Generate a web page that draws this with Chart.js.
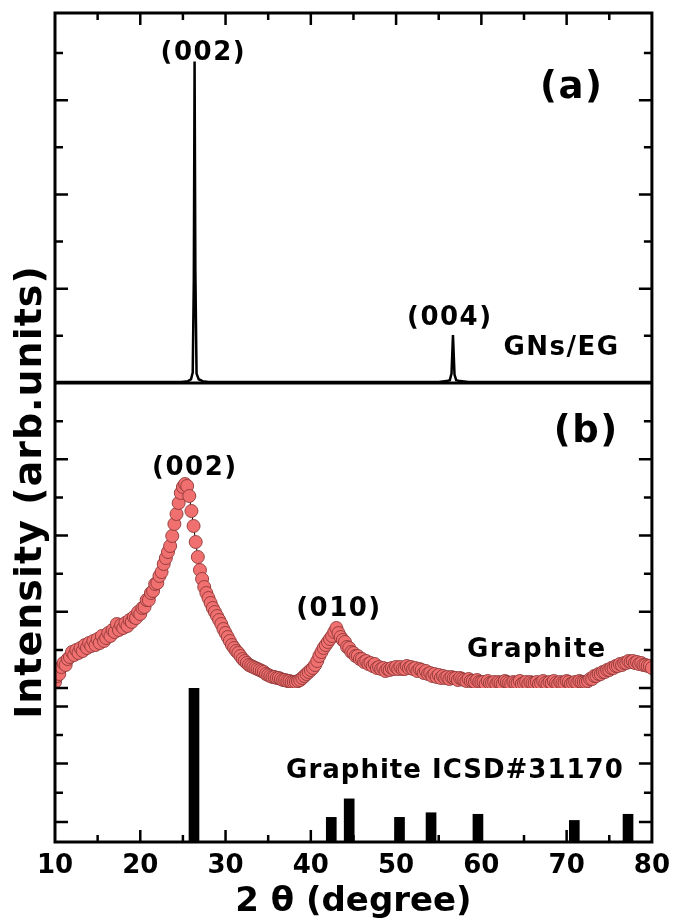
<!DOCTYPE html>
<html lang="en">
<head>
  <meta charset="UTF-8">
  <title>XRD: GNs/EG and graphite</title>
  <script src="https://cdn.jsdelivr.net/npm/chart.js"></script>
  <style>
    html, body { margin: 0; padding: 0; background: #fff; }
    #wrap { position: relative; width: 679px; height: 919px; }
  </style>
</head>
<body>
  <div id="wrap"><canvas id="xrdCanvas"></canvas></div>

  <script>
    // x axis (2 theta, degree)
    const xMin = 10;
    const xMax = 80;
    const xStep = 10;

    // (a) GNs/EG pattern
    const gnsTheta = [10, 11.5, 13, 14.5, 16, 17.5, 19, 20.5, 22, 23.5,
      24.8, 25.6, 25.95, 26.15, 26.28, 26.37, 26.46, 26.6, 26.85, 27.3,
      28, 29.5, 31, 33, 35, 37, 39, 41, 43, 45,
      47, 49, 51, 53, 55, 55.9, 56.3, 56.5, 56.67, 56.85,
      57.05, 57.5, 58.5, 60, 62, 64, 66, 68, 70, 72,
      74, 76, 78, 80];
    const gnsIntensity = [1, 1, 1, 1, 1, 1, 1, 1, 1, 1,
      1, 2, 4, 11, 110, 341, 120, 10, 4, 2,
      1, 1, 1, 1, 1, 1, 1, 1, 1, 1,
      1, 1, 1, 1, 1, 2, 3, 10, 51, 9,
      3, 2, 1, 1, 1, 1, 1, 1, 1, 1,
      1, 1, 1, 1];

    // (b) graphite scan, 0.25 degree steps from 10 degree
    const scanStart = 10;
    const scanStep = 0.25;
    const graphiteIntensity = [
      6, 12, 14, 21,   25, 23, 29, 31,   36, 33, 38, 35,   40, 37, 43, 40,
      45, 42, 47, 43,  49, 45, 52, 47,   50, 55, 52, 58,   56, 64, 58, 63,
      60, 65, 62, 68,  66, 71, 70, 76,   74, 80, 81, 88,   88, 95, 97, 104,
      105, 112, 116, 124,  130, 136, 142, 152,  164, 174, 185, 195,  201, 204, 202, 192,
      177, 162, 146, 131,  118, 109, 101, 95,  90, 85, 80, 76,  72, 68, 64, 59,
      55, 51, 47, 43,  40, 37, 35, 32,  29, 27, 25, 23,  22, 21, 20, 19,
      18, 17, 16, 14,  13, 12, 11, 11,  10, 10, 9, 8,  8, 7, 7, 6,
      6, 6, 7, 8,  10, 12, 14, 16,  18, 20, 23, 27,  32, 36, 40, 43,
      46, 49, 52, 56,  60, 55, 51, 48,  46, 41, 40, 36,  35, 32, 32, 29,
      29, 26, 27, 24,  25, 22, 24, 20,  21, 19, 20, 17,  19, 18, 20, 19,
      21, 19, 21, 19,  19, 22, 20, 21,  19, 20, 17, 19,  18, 15, 17, 14,
      15, 12, 14, 11,  13, 10, 12, 10,  11, 9, 11, 10,  10, 8, 10, 9,
      8, 7, 9, 7,  7, 6, 8, 6,
      6,
      6, 4, 7, 5, 5, 6, 4, 6, 5, 4, 7, 6, 5, 4, 6, 5, 5, 7, 4, 5, 6, 4, 6, 5,
      5, 6, 4, 5, 7, 5, 4, 6, 5, 7, 5, 4, 6, 5, 5, 7, 6, 4, 5, 6, 5, 7, 6, 6,
      6, 7, 9,
      9, 12, 12, 14,  14, 16, 16, 18,  18, 20, 20, 22,  22, 24, 23, 25,
      25, 27, 26, 27,  25, 26, 24, 25,  23, 23, 22, 22,
      20];

    // Graphite ICSD#31170 reference lines
    const icsdTheta = [26.3, 42.4, 44.5, 50.4, 54.1, 59.6, 70.9, 77.2];
    const icsdIntensity = [100, 16, 28, 16, 19, 18, 14, 18];

    // y ranges and tick marks of the three stacked panels
    const aMax = 392.5, aTickStep = 50;
    const bMax = 305, bTickStep = 38.125;
    const cMax = 100;
    const cTicks = [13, 32, 51, 69.5, 88];
    const cMajor = [true, false, true, false, true];

    const labels = [
      { text: '(002)', x: 27.4, axis: 'ya', y: 350, size: 26 },
      { text: '(a)', x: 70.6, axis: 'ya', y: 313, size: 37 },
      { text: '(004)', x: 56.3, axis: 'ya', y: 69, size: 26 },
      { text: 'GNs/EG', x: 69.4, axis: 'ya', y: 37, size: 26 },
      { text: '(b)', x: 72.3, axis: 'yb', y: 256, size: 37 },
      { text: '(002)', x: 26.4, axis: 'yb', y: 220, size: 26 },
      { text: '(010)', x: 43.3, axis: 'yb', y: 79, size: 26 },
      { text: 'Graphite', x: 66.5, axis: 'yb', y: 38, size: 26 },
      { text: 'Graphite ICSD#31170', x: 56.9, axis: 'yc', y: 46, size: 26 }
    ];

    const FONT = '"DejaVu Sans", Verdana, sans-serif';

    const gnsPoints = gnsTheta.map((t, i) => ({ x: t, y: gnsIntensity[i] }));
    const graphitePoints = graphiteIntensity.map((v, i) => ({ x: scanStart + i * scanStep, y: v }));
    const icsdPoints = icsdTheta.map((t, i) => ({ x: t, y: icsdIntensity[i] }));

    const frameAndTicks = {
      id: 'frameAndTicks',
      afterDatasetsDraw(chart) {
        const { ctx, chartArea: a, scales } = chart;
        ctx.save();
        ctx.strokeStyle = '#000';
        ctx.lineWidth = 2.5;

        ctx.beginPath();
        for (let v = xMin + 5; v < xMax; v += 5) {
          const px = scales.x.getPixelForValue(v);
          const len = v % 10 === 0 ? 12 : 7;
          ctx.moveTo(px, a.bottom); ctx.lineTo(px, a.bottom - len);
          ctx.moveTo(px, a.top); ctx.lineTo(px, a.top + len);
        }

        function yTick(py, major) {
          const len = major ? 13 : 8;
          ctx.moveTo(a.left, py); ctx.lineTo(a.left + len, py);
          ctx.moveTo(a.right, py); ctx.lineTo(a.right - len, py);
        }
        for (let k = 1; k * aTickStep < aMax; k++) {
          yTick(scales.ya.getPixelForValue(k * aTickStep), k % 2 === 0);
        }
        for (let k = 0; k * bTickStep < bMax - 1; k++) {
          yTick(scales.yb.getPixelForValue(k * bTickStep), k % 2 === 0);
        }
        cTicks.forEach((v, i) => yTick(scales.yc.getPixelForValue(v), cMajor[i]));
        ctx.stroke();

        ctx.lineWidth = 3;
        ctx.strokeRect(a.left, a.top, a.right - a.left, a.bottom - a.top);
        const sep = scales.ya.getPixelForValue(0);
        ctx.beginPath();
        ctx.moveTo(a.left, sep); ctx.lineTo(a.right, sep);
        ctx.stroke();

        ctx.fillStyle = '#000';
        ctx.textAlign = 'center';
        ctx.textBaseline = 'middle';
        labels.forEach(l => {
          ctx.letterSpacing = l.text.length > 10 ? '1px' : '1.5px';
          ctx.font = 'bold ' + l.size + 'px ' + FONT;
          ctx.fillText(l.text, scales.x.getPixelForValue(l.x), scales[l.axis].getPixelForValue(l.y));
        });

        // y axis title, spans all panels
        ctx.letterSpacing = '1px';
        ctx.translate(31, 492);
        ctx.rotate(-Math.PI / 2);
        ctx.font = 'bold 38px ' + FONT;
        ctx.fillText('Intensity (arb.units)', 0, 0);
        ctx.restore();
      }
    };

    const hiddenY = (stackWeight, weight, max) => ({
      type: 'linear',
      position: 'left',
      stack: 'panels',
      stackWeight: stackWeight,
      weight: weight,
      min: 0,
      max: max,
      ticks: { display: false },
      grid: { display: false, drawTicks: false },
      border: { display: false }
    });

    new Chart(document.getElementById('xrdCanvas'), {
      type: 'scatter',
      data: {
        datasets: [
          {
            type: 'line',
            label: 'GNs/EG',
            data: gnsPoints,
            yAxisID: 'ya',
            borderColor: '#000',
            borderWidth: 2.5,
            pointRadius: 0,
            tension: 0
          },
          {
            type: 'line',
            label: 'Graphite',
            data: graphitePoints,
            yAxisID: 'yb',
            borderColor: '#000',
            borderWidth: 1,
            pointRadius: 6.5,
            pointBackgroundColor: '#f07070',
            pointBorderColor: '#8e3838',
            pointBorderWidth: 0.9,
            tension: 0
          },
          {
            type: 'bar',
            label: 'Graphite ICSD#31170',
            data: icsdPoints,
            yAxisID: 'yc',
            backgroundColor: '#000',
            borderWidth: 0,
            barThickness: 10
          }
        ]
      },
      options: {
        responsive: true,
        maintainAspectRatio: false,
        animation: false,
        events: [],
        layout: { padding: { left: 55, right: 21, top: 13, bottom: 0 } },
        plugins: { legend: { display: false }, tooltip: { enabled: false } },
        scales: {
          x: {
            type: 'linear',
            min: xMin,
            max: xMax,
            offset: false,
            grid: { display: false, drawTicks: false, offset: false },
            border: { display: false },
            ticks: {
              stepSize: xStep,
              maxRotation: 0,
              padding: 9,
              color: '#000',
              font: { family: FONT, size: 26, weight: 'bold' }
            },
            title: {
              display: true,
              text: '2 θ (degree)',
              color: '#000',
              padding: { top: 0, bottom: 0 },
              font: { family: FONT, size: 34, weight: 'bold', lineHeight: 1 }
            },
            afterFit(scale) { scale.height = 77; }
          },
          ya: hiddenY(370, 3, aMax),
          yb: hiddenY(305, 2, bMax),
          yc: hiddenY(154, 1, cMax)
        }
      },
      plugins: [frameAndTicks]
    });
  </script>
</body>
</html>
